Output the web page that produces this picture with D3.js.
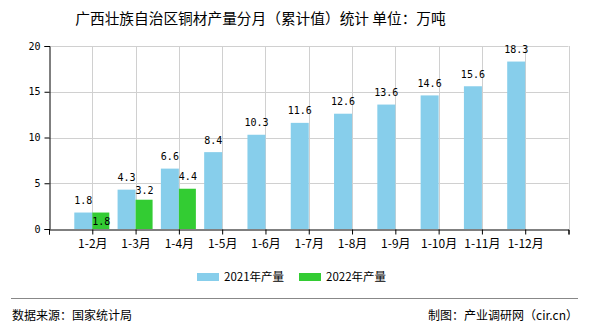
<!DOCTYPE html>
<html>
<head>
<meta charset="utf-8">
<script src="https://cdn.jsdelivr.net/npm/d3@7/dist/d3.min.js"></script>
<style>
  html, body { margin: 0; padding: 0; background: #fff; }
  svg { display: block; }
  text { font-family: "SimSun", "Noto Sans CJK SC", sans-serif; }
  text.num { font-family: "DejaVu Sans Mono", monospace; }
</style>
</head>
<body>
<svg id="chart" width="590" height="330"></svg>
<script>
// Cumulative monthly copper output, Guangxi (unit: 10k tonnes)
const categories = ["1-2月", "1-3月", "1-4月", "1-5月", "1-6月", "1-7月", "1-8月", "1-9月", "1-10月", "1-11月", "1-12月"];
const values2021 = [1.8, 4.3, 6.6, 8.4, 10.3, 11.6, 12.6, 13.6, 14.6, 15.6, 18.3];
const values2022 = [1.8, 3.2, 4.4];
const yTicks = [0, 5, 10, 15, 20];
const seriesNames = ["2021年产量", "2022年产量"];
const colors = ["#87CEEB", "#33CC33"];

(function () {
const svg = d3.select("#chart");
const plotLeft = 49, plotRight = 568.5, plotTop = 46, plotBottom = 229;

// category i sits on slot boundary i+1; slots run from -1 to 11
const x = d3.scaleLinear().domain([-1, categories.length]).range([plotLeft, plotRight]);
const y = d3.scaleLinear().domain([0, 20]).range([plotBottom, plotTop]);
const barW = 18;

// title
svg.append("text")
  .attr("x", 260.5).attr("y", 24)
  .attr("text-anchor", "middle")
  .attr("font-size", 14.7)
  .attr("fill", "#000")
  .text("广西壮族自治区铜材产量分月（累计值）统计 单位：万吨");

// horizontal grid
svg.append("g").selectAll("line").data(yTicks.filter(d => d > 0)).join("line")
  .attr("x1", plotLeft).attr("x2", plotRight)
  .attr("y1", d => Math.round(y(d)) + 0.5).attr("y2", d => Math.round(y(d)) + 0.5)
  .attr("stroke", "#d0d0d0").attr("stroke-width", 1);

// vertical grid at category positions and right end
const gridIdx = d3.range(0, categories.length + 1);
svg.append("g").selectAll("line").data(gridIdx).join("line")
  .attr("x1", d => Math.round(x(d)) + 0.5).attr("x2", d => Math.round(x(d)) + 0.5)
  .attr("y1", plotTop).attr("y2", plotBottom)
  .attr("stroke", "#d0d0d0").attr("stroke-width", 1);

// bars
svg.append("g").selectAll("rect").data(values2021).join("rect")
  .attr("x", (d, i) => x(i) - barW)
  .attr("y", d => y(d))
  .attr("width", barW)
  .attr("height", d => plotBottom - y(d))
  .attr("fill", colors[0]);

svg.append("g").selectAll("rect").data(values2022).join("rect")
  .attr("x", (d, i) => x(i))
  .attr("y", d => y(d))
  .attr("width", barW - 1)
  .attr("height", d => plotBottom - y(d))
  .attr("fill", colors[1]);

// value labels
const labelOffset = 12;
const fmt = d3.format(".1f");
svg.append("g").selectAll("text").data(values2021).join("text")
  .attr("class", "num")
  .attr("x", (d, i) => x(i) - barW / 2)
  .attr("y", d => y(d) - labelOffset)
  .attr("dy", "0.35em")
  .attr("text-anchor", "middle")
  .attr("font-size", 10)
  .attr("fill", "#000")
  .text(fmt);

svg.append("g").selectAll("text").data(values2022).join("text")
  .attr("class", "num")
  .attr("x", (d, i) => x(i) + barW / 2)
  .attr("y", (d, i) => {
    const own = y(d) - labelOffset;
    const other = y(values2021[i]) - labelOffset;
    // avoid colliding with the neighbouring 2021 label: drop inside the bar
    if (Math.abs(own - other) < 6) return y(d) + 9;
    // keep a little clearance below the 2021 label when they are close
    return Math.abs(own - other) < 14 ? y(d) - 9 : own;
  })
  .attr("dy", "0.35em")
  .attr("text-anchor", "middle")
  .attr("font-size", 10)
  .attr("fill", "#000")
  .text(fmt);

// y axis
const yAxis = svg.append("g").attr("transform", `translate(${plotLeft + 0.5},0)`)
  .call(d3.axisLeft(y).tickValues(yTicks).tickSize(5).tickPadding(4));
yAxis.select(".domain").attr("stroke", "#000");
yAxis.selectAll(".tick line").attr("stroke", "#000");
yAxis.selectAll("text").attr("class", "num").attr("font-size", 10).attr("fill", "#000");

// x axis
const xAxis = svg.append("g").attr("transform", `translate(0,${plotBottom + 0.5})`)
  .call(d3.axisBottom(x).tickValues(d3.range(-1, categories.length + 1))
    .tickSize(5).tickPadding(5)
    .tickFormat(d => (d >= 0 && d < categories.length) ? categories[d] : ""));
xAxis.select(".domain").attr("stroke", "#000");
xAxis.selectAll(".tick line").attr("stroke", "#000");
xAxis.selectAll("text").attr("font-size", 12).attr("fill", "#000");

// legend
const legend = svg.append("g");
const legendX = [197, 299];
seriesNames.forEach((name, i) => {
  legend.append("rect").attr("x", legendX[i]).attr("y", 273)
    .attr("width", 22).attr("height", 8).attr("fill", colors[i]);
  legend.append("text").attr("x", legendX[i] + 27).attr("y", 277)
    .attr("dy", "0.35em").attr("font-size", 11.5).attr("fill", "#000")
    .text(name);
});

// footer
svg.append("line").attr("x1", 11).attr("x2", 578).attr("y1", 298.5).attr("y2", 298.5)
  .attr("stroke", "#888").attr("stroke-width", 1);
svg.append("text").attr("x", 12).attr("y", 316).attr("dy", "0.35em")
  .attr("font-size", 12).attr("fill", "#000").text("数据来源：国家统计局");
svg.append("text").attr("x", 578).attr("y", 316).attr("dy", "0.35em")
  .attr("text-anchor", "end").attr("font-size", 12).attr("fill", "#000").text("制图：产业调研网（cir.cn）");
})();
</script>
</body>
</html>
